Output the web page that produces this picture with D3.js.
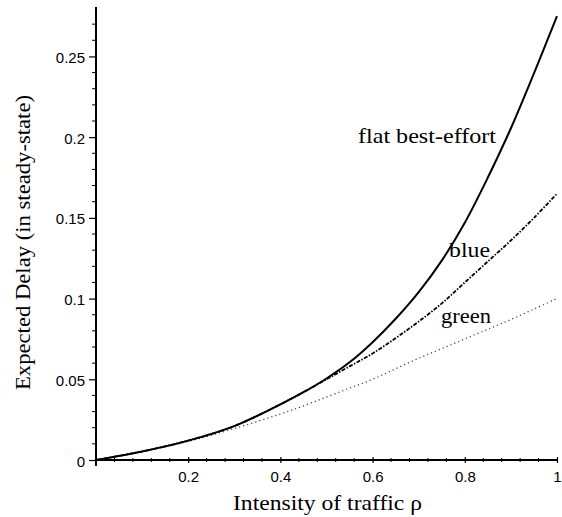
<!DOCTYPE html>
<html><head><meta charset="utf-8">
<script src="https://cdn.jsdelivr.net/npm/d3@7"></script>
<style>body{margin:0;background:#fff}svg{display:block}</style>
</head><body>
<svg id="c" width="562" height="517"></svg>
<script>
const rho =        [0, 0.1, 0.2, 0.3, 0.4, 0.45, 0.5, 0.55, 0.6, 0.65, 0.7, 0.75, 0.8, 0.85, 0.9, 0.95, 1.0];
const flatDelay =  [0, 0.0053, 0.012, 0.021, 0.0345, 0.042, 0.0505, 0.0605, 0.073, 0.0875, 0.104, 0.1235, 0.147, 0.175, 0.2055, 0.2395, 0.275];
const blueDelay =  [0, 0.0053, 0.012, 0.021, 0.0345, 0.042, 0.0500, 0.058, 0.066, 0.0755, 0.0858, 0.097, 0.110, 0.123, 0.136, 0.150, 0.165];
const greenDelay = [0, 0.0051, 0.0115, 0.0195, 0.0285, 0.0335, 0.039, 0.0445, 0.050, 0.0565, 0.063, 0.069, 0.075, 0.081, 0.087, 0.0935, 0.100];
const xTicks = [0.2, 0.4, 0.6, 0.8, 1];
const xTickLabels = ["0.2", "0.4", "0.6", "0.8", "1"];
const yTicks = [0, 0.05, 0.1, 0.15, 0.2, 0.25];
const yTickLabels = ["0", "0.05", "0.1", "0.15", "0.2", "0.25"];
const seriesNames = ["flat best-effort", "blue", "green"];

const svg = d3.select("#c");
const x = d3.scaleLinear().domain([0, 1]).range([96, 557]);
const y = d3.scaleLinear().domain([0, 0.28]).range([460, 8]);

// axes
const xAxis = d3.axisBottom(x).tickValues(xTicks).tickFormat((d,i)=>xTickLabels[i]).tickSize(3).tickSizeOuter(0).tickPadding(8);
const gx = svg.append("g").attr("transform","translate(0,460)").call(xAxis);
gx.select(".domain").attr("stroke","#000").attr("stroke-width",2).attr("d","M96,0H558");
gx.selectAll(".tick line").attr("y1",-3).attr("y2",3).attr("stroke-width",1.2);
gx.selectAll("text").attr("font-family","'Liberation Sans', Arial, sans-serif").attr("font-size",15).attr("fill","#000");
// minor x ticks
svg.append("g").selectAll("line").data(d3.range(0.04, 1.0, 0.04).filter(v=>Math.abs(v*5-Math.round(v*5))>1e-6))
  .join("line").attr("x1",d=>x(d)).attr("x2",d=>x(d)).attr("y1",458).attr("y2",462).attr("stroke","#000").attr("stroke-width",1);

const yAxis = d3.axisLeft(y).tickValues(yTicks).tickFormat((d,i)=>yTickLabels[i]).tickSize(7).tickSizeOuter(0).tickPadding(4);
const gy = svg.append("g").attr("transform","translate(96,0)").call(yAxis);
gy.select(".domain").attr("stroke","#000").attr("stroke-width",2).attr("d","M0,7V466");
gy.selectAll(".tick line").attr("stroke-width",1.2);
gy.selectAll("text").attr("font-family","'Liberation Sans', Arial, sans-serif").attr("font-size",15).attr("fill","#000").attr("dy","0.4em");
// minor y ticks
svg.append("g").selectAll("line").data(d3.range(0.01, 0.28, 0.01).filter(v=>Math.abs(v*20-Math.round(v*20))>1e-6))
  .join("line").attr("x1",92).attr("x2",96).attr("y1",d=>y(d)).attr("y2",d=>y(d)).attr("stroke","#000").attr("stroke-width",1);

// curves
const line = d3.line().x(d=>x(d[0])).y(d=>y(d[1])).curve(d3.curveCatmullRom.alpha(0.5));
const mk = arr => rho.map((r,i)=>[r, arr[i]]);
svg.append("path").attr("d", line(mk(greenDelay))).attr("fill","none").attr("stroke","#444").attr("stroke-width",1.3).attr("stroke-dasharray","1.2,3");
svg.append("path").attr("d", line(mk(blueDelay))).attr("fill","none").attr("stroke","#000").attr("stroke-width",1.8).attr("stroke-dasharray","4,1.5,1.5,1.5");
svg.append("path").attr("d", line(mk(flatDelay))).attr("fill","none").attr("stroke","#000").attr("stroke-width",2);

// series labels
const serif = "'Liberation Serif', 'Times New Roman', serif";
const lab = [[seriesNames[0], 427, 143, 138], [seriesNames[1], 469.5, 257, 41], [seriesNames[2], 466, 323, 50]];
svg.append("g").selectAll("text").data(lab).join("text")
  .attr("x",d=>d[1]).attr("y",d=>d[2]).attr("text-anchor","middle")
  .attr("textLength",d=>d[3]).attr("lengthAdjust","spacingAndGlyphs")
  .attr("font-family",serif).attr("font-size",21).attr("fill","#000").text(d=>d[0]);

// axis titles
svg.append("text").attr("x",327.5).attr("y",510).attr("text-anchor","middle").attr("font-family",serif).attr("font-size",21)
  .attr("textLength",189).attr("lengthAdjust","spacingAndGlyphs")
  .attr("fill","#000").text("Intensity of traffic ρ");
svg.append("text").attr("transform","translate(30,242.5) rotate(-90)").attr("text-anchor","middle").attr("font-family",serif).attr("font-size",21)
  .attr("textLength",295).attr("lengthAdjust","spacingAndGlyphs")
  .attr("fill","#000").text("Expected Delay (in steady-state)");
</script>
</body></html>
